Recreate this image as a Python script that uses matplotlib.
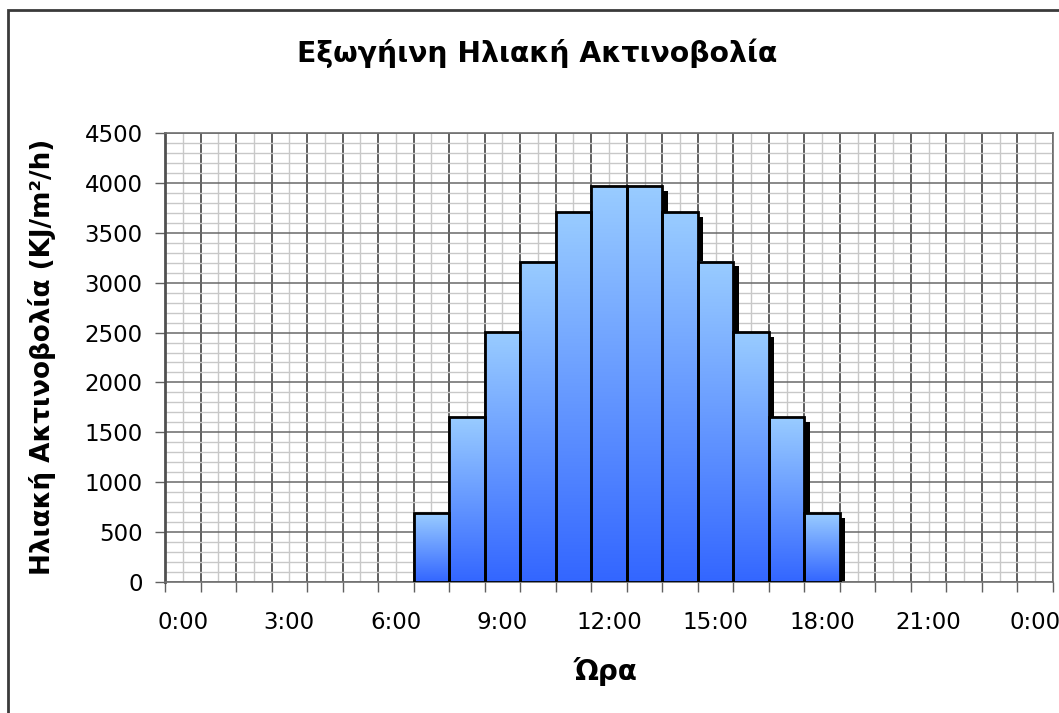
import numpy as np
import matplotlib
matplotlib.use("Agg")
import matplotlib.pyplot as plt
from matplotlib.patches import Rectangle
from matplotlib.colors import LinearSegmentedColormap
from matplotlib.ticker import MultipleLocator

# Hourly categories 0:00 .. 0:00 (25 slots), radiation only during daylight
hours = [f"{h % 24}:00" for h in range(25)]
radiation = [0, 0, 0, 0, 0, 0, 0, 690, 1650, 2505, 3210, 3705, 3965,
             3965, 3705, 3210, 2505, 1650, 690, 0, 0, 0, 0, 0, 0]

TITLE = "Εξωγήινη Ηλιακή Ακτινοβολία"
XLABEL = "Ώρα"
YLABEL = "Ηλιακή Ακτινοβολία (KJ/m²/h)"

plt.rcParams["font.family"] = ["DejaVu Sans"]

W, H = 1059, 713
fig = plt.figure(figsize=(W / 100, H / 100), dpi=100)
ax = fig.add_axes([165 / W, 1 - 582 / H, 888 / W, 449 / H])

n = len(hours)

# grid: majors at category edges / every 500, minors between
ax.xaxis.set_major_locator(MultipleLocator(1))
ax.xaxis.set_minor_locator(MultipleLocator(0.5))
ax.yaxis.set_major_locator(MultipleLocator(500))
ax.yaxis.set_minor_locator(MultipleLocator(100))
ax.grid(which="minor", color="#c8c8c8", linewidth=1.0, zorder=0)
ax.grid(which="major", axis="x", color="#333333", linewidth=1.1, zorder=0)
ax.grid(which="major", axis="y", color="#6a6a6a", linewidth=1.1, zorder=0)
ax.set_axisbelow(True)

ax.tick_params(axis="x", which="major", length=7, width=1, color="#606060",
               labelbottom=False)
ax.tick_params(axis="x", which="minor", length=0)
ax.tick_params(axis="y", which="major", length=7, width=1, color="#606060",
               labelsize=16.5, pad=9)
ax.tick_params(axis="y", which="minor", length=0)

# category labels every third slot, centred in the slot
for i in range(0, n, 3):
    ax.text(i + 0.5, -0.09, hours[i], transform=ax.get_xaxis_transform(),
            ha="center", va="center", fontsize=16.5)

for side in ("top", "right", "bottom"):
    ax.spines[side].set_color("#707070")
    ax.spines[side].set_linewidth(1.2)
ax.spines["left"].set_color("#505050")
ax.spines["left"].set_linewidth(2)

# per-bar vertical gradient, black drop shadow offset right/down
cmap = LinearSegmentedColormap.from_list("bar", ["#3366ff", "#99ccff"])
grad = np.linspace(0, 1, 256).reshape(-1, 1)
dx = 5.5 / (888 / n)
dy = 4.5 * 4500 / 449
for i, v in enumerate(radiation):
    if v <= 0:
        continue
    ax.add_patch(Rectangle((i + dx, 0), 1, max(v - dy, 0), facecolor="black",
                           edgecolor="none", zorder=2))
for i, v in enumerate(radiation):
    if v <= 0:
        continue
    ax.imshow(grad, cmap=cmap, origin="lower", aspect="auto",
              extent=[i, i + 1, 0, v], interpolation="bilinear", zorder=3)
    ax.add_patch(Rectangle((i, 0), 1, v, facecolor="none", edgecolor="black",
                           linewidth=2, zorder=4))
ax.set_xlim(0, n)
ax.set_ylim(0, 4500)

fig.text(537 / W, 1 - 53 / H, TITLE, ha="center", va="center",
         fontsize=20.3, fontweight="bold")
fig.text(606 / W, 1 - 672 / H, XLABEL, ha="center", va="center",
         fontsize=20, fontweight="bold")
fig.text(42 / W, 1 - 357 / H, YLABEL, ha="center", va="center",
         rotation=90, fontsize=18.9, fontweight="bold")

# chart-area frame
fig.patches.append(Rectangle((7.5 / W, -0.05), 1.1, 1.05 - 10 / H,
                             transform=fig.transFigure, facecolor="none",
                             edgecolor="#3a3a3a", linewidth=2))

fig.savefig("out.png", dpi=100)
